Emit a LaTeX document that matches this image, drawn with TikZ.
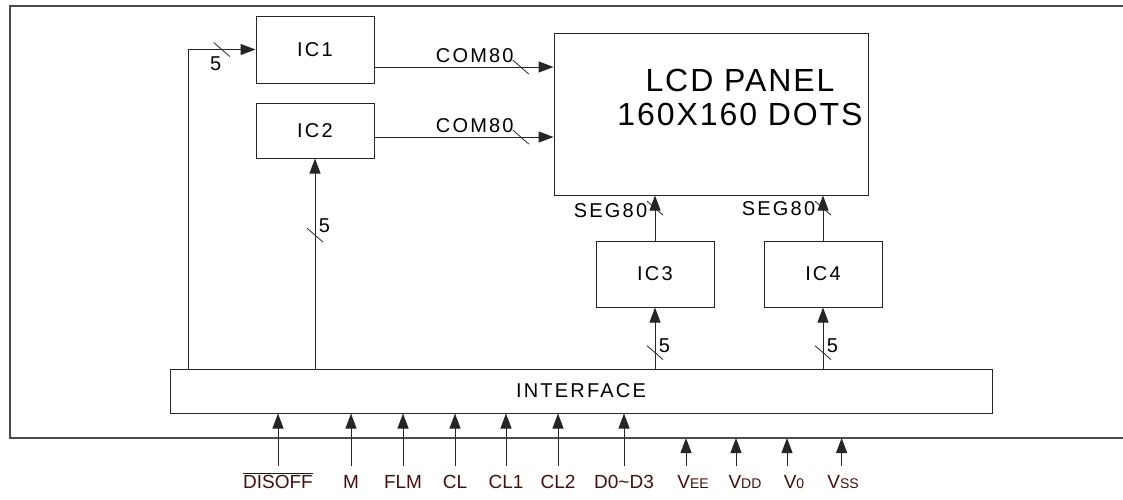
\documentclass[tikz,border=0pt]{standalone}
\usepackage{fontspec}
\setmainfont{Liberation Sans}[LetterSpace=11]
\newfontfamily\pinfont{Liberation Sans}
\newfontfamily\panelfont{Liberation Sans}[LetterSpace=6]
\usetikzlibrary{arrows.meta}
\definecolor{pinred}{RGB}{70,14,14}

\begin{document}
\begin{tikzpicture}[x=1pt, y=-1pt,
  every node/.style={font=\fontsize{20}{23}\selectfont},
  blk/.style={draw=black!85, line width=1pt, minimum width=118pt, minimum height=67pt, inner sep=0pt},
  sig/.style={draw=black!85, line width=1pt, -{Triangle[length=15pt, width=11pt]}},
  pin/.style={text=pinred, font=\pinfont\fontsize{19}{22}\selectfont, anchor=north,
    inner xsep=0pt, inner ysep=8pt, text height=14pt, text depth=0pt},
  bus/.pic={\draw[-, line width=0.8pt] (-8,-7) -- (8,7);}
]
  \useasboundingbox (0,0) rectangle (1123,499);

  % outer frame (open to the right)
  \draw[black!70, line width=1.2pt] (1123,6) -- (10,6) -- (10,438) -- (1123,438);
  \coordinate (fb) at (10,438);

  % blocks
  \node[blk] (ic1) at (315,49.5) {IC1};
  \node[blk, minimum height=55pt] (ic2) at (315,130.5) {IC2};
  \node[blk, minimum width=314pt, minimum height=162pt] (lcd) at (711,114) {};
  \node[align=center, font=\panelfont\fontsize{32}{34}\selectfont] (lcdtxt) at (740,97) {LCD PANEL\\160X160 DOTS};
  \node[blk, minimum height=66pt] (ic3) at (655,274) {IC3};
  \node[blk, minimum height=66pt] (ic4) at (823,274) {IC4};
  \node[blk, minimum width=822pt, minimum height=44pt] (iface) at (581,391) {INTERFACE};

  % buses from the interface
  \coordinate (bend) at (188,49.5);
  \draw[sig] (iface.north -| bend) -- (bend) -- pic[pos=0.5]{bus}
    node[pos=0.41, below, yshift=-3pt] (n1) {5} (ic1.west);
  \draw[sig] (ic2.south |- iface.north) -- pic[pos=0.635]{bus}
    node[pos=0.68, right] (n2) {5} (ic2.south);
  \draw[sig] (ic3.south |- iface.north) -- pic[pos=0.26]{bus}
    node[pos=0.37, right] (n3) {5} (ic3.south);
  \draw[sig] (ic4.south |- iface.north) -- pic[pos=0.26]{bus}
    node[pos=0.37, right] (n4) {5} (ic4.south);

  % COM and SEG drivers
  \draw[sig] ([yshift=-17.5pt]ic1.east) -- pic[pos=0.817]{bus}
    node[pos=0.56, above] (com1) {COM80} ([yshift=-17.5pt]ic1.east -| lcd.west);
  \draw[sig] ([yshift=-6.5pt]ic2.east) -- pic[pos=0.817]{bus}
    node[pos=0.56, above] (com2) {COM80} ([yshift=-6.5pt]ic2.east -| lcd.west);
  \draw[sig] (ic3.north) -- pic[pos=0.72]{bus}
    node[pos=0.66, left, xshift=-4pt] (seg1) {SEG80} (ic3.north |- lcd.south);
  \draw[sig] (ic4.north) -- pic[pos=0.72]{bus}
    node[pos=0.7, left, xshift=-4pt] (seg2) {SEG80} (ic4.north |- lcd.south);

  % input pins
  \foreach \x/\n/\t in {278/dis/{$\overline{\mbox{DISOFF}}$}, 351/m/M, 403/flm/FLM, 455/cl/CL,
      506/cla/CL1, 558/clb/CL2, 624/dat/D0\textasciitilde D3} {
    \node[pin] (\n) at (\x,466) {\t};
    \draw[sig] (\n.north) -- (\n.north |- iface.south);
  }

  % supply pins
  \foreach \x/\s/\n/\t in {693/-7/vee/EE, 745/-9/vdd/DD, 794/-7/vo/0, 843/-1.4/vss/SS} {
    \node[pin] (\n) at (\x,466) {V{\fontsize{14}{14}\selectfont\t}};
    \draw[sig] ([xshift=\s pt]\n.north) -- ([xshift=\s pt]\n.north |- fb);
  }
\end{tikzpicture}
\end{document}
